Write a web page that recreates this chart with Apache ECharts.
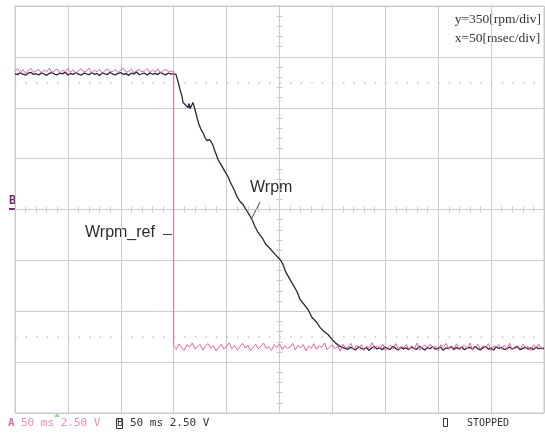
<!DOCTYPE html>
<html>
<head>
<meta charset="utf-8">
<script src="https://cdn.jsdelivr.net/npm/echarts@6/dist/echarts.min.js"></script>
<style>
html,body{margin:0;padding:0;background:#fff;}
#chart{width:545px;height:435px;}
</style>
</head>
<body>
<div id="chart"></div>
<script>
// ---- scale: x = 50 ms/div (10 div), y = 350 rpm/div (8 div)
var xMin = 0, xMax = 500, xStep = 50;
var yMin = -1400, yMax = 1400, yStep = 350;
var cursorLevels = [875, -875];

// ---- Wrpm_ref (pink), evenly sampled
var refStepTime = 150;          // ms, time of the reference step
var refUpper = [950,968,941,962,936,957,971,944,953,965,938,960,947,972,942,955,966,939,958,949,970,943,961,935,956,967,945,952,973,940,959,948,964,937,955,969,946,951,962,941,958,972,944,950,966,939,957,963,947,954,970,942,960,945,968,938,956,964,949,953,950];
var refLower = [-938,-962,-925,-951,-970,-931,-947,-918,-959,-944,-928,-968,-940,-922,-955,-935,-973,-949,-926,-961,-942,-917,-957,-936,-966,-945,-921,-953,-932,-971,-948,-927,-960,-939,-919,-956,-943,-969,-930,-951,-924,-964,-937,-958,-946,-920,-967,-934,-953,-929,-972,-941,-955,-923,-962,-936,-949,-918,-965,-944,-931,-958,-940,-975,-927,-952,-946,-921,-963,-935,-956,-929,-969,-942,-950,-916,-961,-938,-954,-925,-970,-947,-933,-959,-922,-966,-943,-951,-928,-964,-937,-957,-919,-968,-945,-932,-960,-926,-953,-941,-973,-930,-948,-921,-962,-939,-955,-924,-967,-944,-934,-958,-918,-965,-949,-927,-961,-936,-952,-923,-970,-940,-947,-929,-963,-933,-956,-920,-966,-945,-938,-959,-926,-954,-942,-971,-931,-950,-925,-960,-946];

// ---- Wrpm (black)
var wUpper = [935,928,941,931,924,938,944,929,934,926,940,932,923,937,943,930,927,939,933,945,925,936,929,942,931,924,938,934,927,943,930,936,922,940,933,928,944,931,926,937,941,929,935,923,939,932,946,927,934,938,925,941,930,936,928,944,933,926,939,931,935];
var rampTime = [152.2,154.1,156.0,157.9,158.8,161.6,163.5,164.5,165.4,167.3,168.2,170.1,172.0,173.9,175.8,177.7,179.6,181.5,183.4,185.3,187.2,189.1,191.9,194.7,198.5,201.3,203.2,207.0,209.8,212.7,215.5,218.3,221.2,224.0,226.8,229.7,233.5,237.2,241.0,245.8,250.5,253.3,256.1,259.9,263.7,266.5,269.4,273.2,276.9,280.7,284.5,288.3,292.1,295.8,299.6,303.4,307.2,311.9];
var rampRpm  = [928,880,825,777,736,715,701,729,694,722,736,688,633,584,550,529,495,474,481,468,440,399,344,309,261,227,193,138,89,55,34,0,-34,-69,-117,-158,-193,-241,-268,-309,-344,-378,-433,-481,-529,-564,-619,-653,-688,-743,-770,-811,-839,-860,-894,-921,-942,-956];
var wLowerStart = 312;
var wLower = [-952,-963,-947,-958,-966,-944,-955,-961,-949,-968,-953,-942,-960,-950,-965,-946,-957,-962,-943,-954,-967,-948,-959,-951,-964,-945,-956,-962,-941,-953,-966,-949,-958,-944,-961,-955,-947,-969,-952,-957,-943,-963,-950,-959,-946,-965,-954,-948,-962,-942,-957,-966,-951,-945,-960,-953,-967,-944,-956,-949,-963,-958,-946,-961,-952,-943,-965,-955,-948,-960,-951,-964,-947,-957,-953,-959];

function sampled(vals, t0, t1) {
  var out = [];
  for (var i = 0; i < vals.length; i++) out.push([t0 + (t1 - t0) * i / (vals.length - 1), vals[i]]);
  return out;
}
var refData = sampled(refUpper, xMin, refStepTime).concat(sampled(refLower, refStepTime, xMax));
var wData = sampled(wUpper, xMin, refStepTime);
for (var i = 0; i < rampTime.length; i++) wData.push([rampTime[i], rampRpm[i]]);
wData = wData.concat(sampled(wLower, wLowerStart, xMax));

var GRID = '#cbcbcb';
var chart = echarts.init(document.getElementById('chart'));
var centerTickAxisX = function (pos) {
  return {
    type: 'value', min: xMin, max: xMax, interval: xStep, position: pos,
    axisLine: {show: true, onZero: true, onZeroAxisIndex: 0, lineStyle: {color: GRID, width: 1}},
    axisTick: {show: true, length: 3, lineStyle: {color: GRID}},
    minorTick: {show: true, splitNumber: 5, length: 3, lineStyle: {color: GRID}},
    axisLabel: {show: false}, splitLine: {show: false}
  };
};
var centerTickAxisY = function (pos) {
  return {
    type: 'value', min: yMin, max: yMax, interval: yStep, position: pos,
    axisLine: {show: true, onZero: true, onZeroAxisIndex: 3, lineStyle: {color: GRID, width: 1}},
    axisTick: {show: true, length: 3, lineStyle: {color: GRID}},
    minorTick: {show: true, splitNumber: 5, length: 3, lineStyle: {color: GRID}},
    axisLabel: {show: false}, splitLine: {show: false}
  };
};
chart.setOption({
  animation: false,
  backgroundColor: '#ffffff',
  grid: {left: 15, top: 6, width: 529, height: 407, show: true, borderColor: GRID, borderWidth: 1},
  xAxis: [
    {type: 'value', min: xMin, max: xMax, interval: xStep,
     axisLine: {show: false, onZero: false}, axisTick: {show: false}, axisLabel: {show: false},
     splitLine: {show: true, lineStyle: {color: GRID, width: 1}}},
    centerTickAxisX('bottom'),
    centerTickAxisX('top'),
    {type: 'value', min: -(xMax - xMin) / 2, max: (xMax - xMin) / 2, show: false,
     axisLine: {onZero: false}}
  ],
  yAxis: [
    {type: 'value', min: yMin, max: yMax, interval: yStep,
     axisLine: {show: false, onZero: false}, axisTick: {show: false}, axisLabel: {show: false},
     splitLine: {show: true, lineStyle: {color: GRID, width: 1}}},
    centerTickAxisY('left'),
    centerTickAxisY('right')
  ],
  series: [
    {type: 'line', name: 'cursors', data: [], silent: true,
     markLine: {silent: true, symbol: 'none', label: {show: false},
       lineStyle: {color: '#c4c4c4', width: 1.5, type: [1.5, 9.08]},
       data: cursorLevels.map(function (v) { return {yAxis: v}; })}},
    {type: 'line', name: 'Wrpm', data: wData, showSymbol: false, symbol: 'none',
     lineStyle: {color: '#26263c', width: 1.3}, z: 3},
    {type: 'line', name: 'Wrpm_ref', data: refData, showSymbol: false, symbol: 'none',
     lineStyle: {color: '#e8649f', width: 1}, z: 4}
  ],
  graphic: [
    {type: 'text', right: 4, top: 10, style: {text: 'y=350[rpm/div]\nx=50[msec/div]', font: '13.5px "Liberation Serif"', fill: '#333', align: 'right', lineHeight: 19}},
    {type: 'text', left: 250, top: 180, style: {text: 'Wrpm', font: '16px "Liberation Sans"', fill: '#2b2b2b'}},
    {type: 'line', shape: {x1: 260, y1: 202, x2: 252, y2: 218}, style: {stroke: '#444', lineWidth: 1}},
    {type: 'text', left: 85, top: 225, style: {text: 'Wrpm_ref', font: '16px "Liberation Sans"', fill: '#2b2b2b'}},
    {type: 'line', shape: {x1: 163, y1: 234.5, x2: 172, y2: 234.5}, style: {stroke: '#444', lineWidth: 1}},
    {type: 'text', left: 9, top: 195, style: {text: 'B', font: 'bold 12px "DejaVu Sans Mono"', fill: '#7a2a6e'}},
    {type: 'rect', shape: {x: 9, y: 208, width: 6, height: 2}, style: {fill: '#7a2a6e'}},
    {type: 'polygon', shape: {points: [[57, 413], [54, 417], [60, 417]]}, style: {fill: '#8fe08f'}},
    {type: 'text', left: 8, top: 418, style: {text: 'A', font: 'bold 11px "DejaVu Sans Mono"', fill: '#e070a8'}},
    {type: 'text', left: 21, top: 418, style: {text: '50 ms 2.50 V', font: '11px "DejaVu Sans Mono"', fill: '#e88cbc'}},
    {type: 'rect', shape: {x: 116.5, y: 418.5, width: 6, height: 10}, style: {fill: 'none', stroke: '#333', lineWidth: 1}},
    {type: 'text', left: 117, top: 418, style: {text: 'B', font: '10px "DejaVu Sans Mono"', fill: '#333'}},
    {type: 'text', left: 130, top: 418, style: {text: '50 ms 2.50 V', font: '11px "DejaVu Sans Mono"', fill: '#333'}},
    {type: 'rect', shape: {x: 443.5, y: 418.5, width: 4, height: 8}, style: {fill: 'none', stroke: '#333', lineWidth: 1}},
    {type: 'text', left: 467, top: 418, style: {text: 'STOPPED', font: '10px "DejaVu Sans Mono"', fill: '#333'}}
  ]
});
</script>
</body>
</html>
